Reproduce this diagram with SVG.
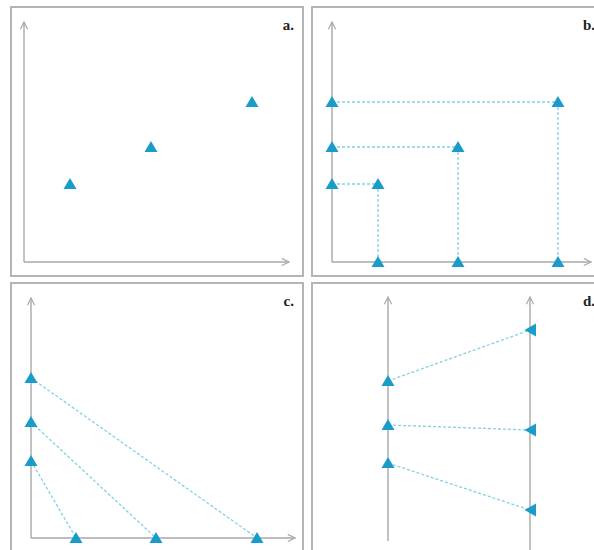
<svg xmlns="http://www.w3.org/2000/svg" width="594" height="550" viewBox="0 0 594 550">
<defs>
<style>
.frame{fill:#fff;stroke:#b4b4b8;stroke-width:2}
.axis{fill:none;stroke:#a8a8ac;stroke-width:1.4}
.dash{fill:none;stroke:#86cfe6;stroke-width:1.3;stroke-dasharray:3 2}
.tri{fill:#1a9cc8}
.lbl{font-family:"Liberation Serif",serif;font-weight:bold;font-size:15px;fill:#222;text-anchor:end}
</style>
<marker id="open" viewBox="0 0 10 10" refX="9" refY="5" markerWidth="9" markerHeight="9" markerUnits="userSpaceOnUse" orient="auto">
<path d="M1,1 L9,5 L1,9" fill="none" stroke="#a8a8ac" stroke-width="1.3"/>
</marker>
<path id="up" d="M0,-6 L6.5,5 L-6.5,5 Z"/>
<path id="left" d="M-6.5,0 L5,-6.5 L5,6.5 Z"/>
</defs>
<rect width="594" height="550" fill="#fff"/>
<g id="frames">
<rect class="frame" x="11" y="7" width="292" height="269"/>
<rect class="frame" x="312" y="7" width="290" height="269"/>
<rect class="frame" x="11" y="283" width="292" height="280"/>
<rect class="frame" x="312" y="283" width="290" height="280"/>
</g>
<g id="axes">
<line class="axis" x1="24" y1="262" x2="24" y2="22" marker-end="url(#open)"/>
<line class="axis" x1="24" y1="262" x2="289" y2="262" marker-end="url(#open)"/>
<line class="axis" x1="332" y1="262" x2="332" y2="22" marker-end="url(#open)"/>
<line class="axis" x1="332" y1="262" x2="591" y2="262" marker-end="url(#open)"/>
<line class="axis" x1="31" y1="538" x2="31" y2="298" marker-end="url(#open)"/>
<line class="axis" x1="31" y1="538" x2="295" y2="538" marker-end="url(#open)"/>
<line class="axis" x1="388" y1="541" x2="388" y2="297" marker-end="url(#open)"/>
<line class="axis" x1="530" y1="552" x2="530" y2="297" marker-end="url(#open)"/>
</g>
<g id="connectors">
<line class="dash" x1="332" y1="102" x2="558" y2="102"/>
<line class="dash" x1="558" y1="102" x2="558" y2="262"/>
<line class="dash" x1="332" y1="147" x2="458" y2="147"/>
<line class="dash" x1="458" y1="147" x2="458" y2="262"/>
<line class="dash" x1="332" y1="184" x2="378" y2="184"/>
<line class="dash" x1="378" y1="184" x2="378" y2="262"/>
<line class="dash" x1="31" y1="378" x2="257" y2="538"/>
<line class="dash" x1="31" y1="422" x2="156" y2="538"/>
<line class="dash" x1="31" y1="461" x2="76" y2="538"/>
<line class="dash" x1="388" y1="381" x2="530" y2="330"/>
<line class="dash" x1="388" y1="425" x2="530" y2="430"/>
<line class="dash" x1="388" y1="463" x2="530" y2="510"/>
</g>
<g id="panel-a">
<use href="#up" class="tri" x="70" y="184"/>
<use href="#up" class="tri" x="151" y="147"/>
<use href="#up" class="tri" x="252" y="102"/>
<text class="lbl" x="294" y="30">a.</text>
</g>
<g id="panel-b">
<use href="#up" class="tri" x="332" y="102"/>
<use href="#up" class="tri" x="332" y="147"/>
<use href="#up" class="tri" x="332" y="184"/>
<use href="#up" class="tri" x="378" y="184"/>
<use href="#up" class="tri" x="458" y="147"/>
<use href="#up" class="tri" x="558" y="102"/>
<use href="#up" class="tri" x="378" y="262"/>
<use href="#up" class="tri" x="458" y="262"/>
<use href="#up" class="tri" x="558" y="262"/>
<text class="lbl" x="595" y="30">b.</text>
</g>
<g id="panel-c">
<use href="#up" class="tri" x="31" y="378"/>
<use href="#up" class="tri" x="31" y="422"/>
<use href="#up" class="tri" x="31" y="461"/>
<use href="#up" class="tri" x="76" y="538"/>
<use href="#up" class="tri" x="156" y="538"/>
<use href="#up" class="tri" x="257" y="538"/>
<text class="lbl" x="294" y="306">c.</text>
</g>
<g id="panel-d">
<use href="#up" class="tri" x="388" y="381"/>
<use href="#up" class="tri" x="388" y="425"/>
<use href="#up" class="tri" x="388" y="463"/>
<use href="#left" class="tri" x="531" y="330"/>
<use href="#left" class="tri" x="531" y="430"/>
<use href="#left" class="tri" x="531" y="510"/>
<text class="lbl" x="595" y="306">d.</text>
</g>
</svg>
